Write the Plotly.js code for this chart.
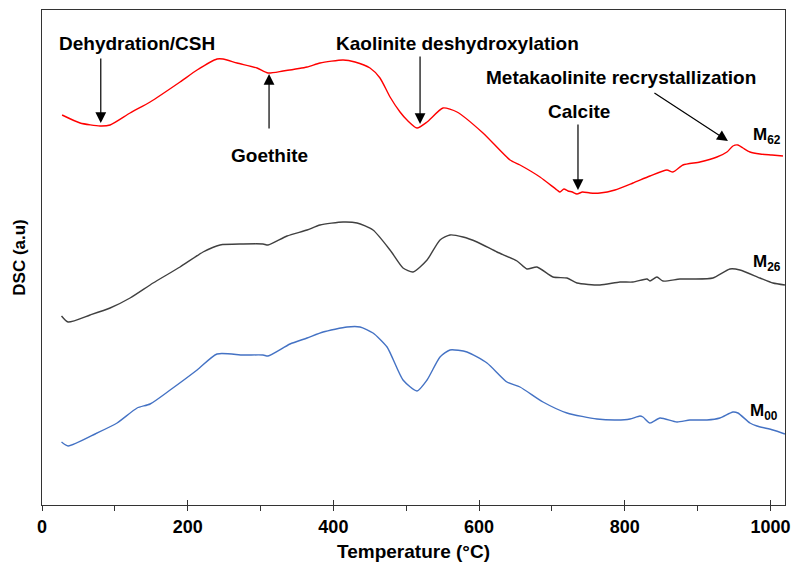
<!DOCTYPE html>
<html>
<head>
<meta charset="utf-8">
<script src="https://cdn.plot.ly/plotly-3.0.1.min.js"></script>
<style>
  html, body { margin: 0; padding: 0; background: #ffffff; }
  #chart { width: 800px; height: 566px; }
</style>
</head>
<body>
<div id="chart"></div>
<script>
// DSC thermograms (arbitrary units) of the three mixes versus temperature

// M62 (red)
const tempM62 = [27.6, 52.3, 79.7, 93.5, 120.9, 148.4, 189.5, 212.9, 240.3, 248.6, 267.8, 295.2, 310.3, 330.9,
  363.9, 381.7, 413.3, 429.7, 450.3, 464.0, 477.8, 491.5, 501.1, 514.8, 528.6, 550.5, 569.7, 605.4, 642.5,
  656.2, 683.6, 707.0, 711.1, 716.5, 722.1, 728.0, 734.4, 742.0, 752.3, 766.0, 786.6, 811.3, 834.6, 857.9,
  866.2, 879.9, 903.2, 926.6, 940.3, 948.5, 955.4, 962.3, 971.9, 985.6, 1002.1, 1017.2];
const dscM62 = [390, 382, 379, 380, 392, 403, 423, 435, 446, 446, 442, 437, 432, 434,
  438, 442, 445, 443, 437, 427, 408, 393, 385, 377, 383, 397, 393, 372, 345,
  340, 328, 315, 313, 316, 314, 313, 311, 313, 312, 312, 315, 322, 329, 335,
  333, 340, 343, 348, 353, 359, 360, 357, 353, 351, 350, 349];

// M26 (dark grey)
const tempM26 = [26.8, 35.8, 66.0, 93.5, 120.9, 152.5, 189.5, 221.1, 244.4, 276.0, 303.5, 310.3, 336.4, 363.9,
  381.7, 413.3, 432.5, 454.4, 477.8, 495.6, 509.3, 528.6, 546.4, 560.1, 578.0, 597.2, 624.6, 652.1, 665.8,
  679.5, 701.5, 720.7, 734.4, 766.0, 793.4, 811.3, 830.5, 834.6, 844.2, 852.5, 875.8, 893.6, 921.1, 944.4,
  958.1, 985.6, 1003.4, 1019.9];
const dscM26 = [189, 183, 190, 197, 207, 222, 238, 253, 260, 261, 261, 260, 269, 275,
  280, 283, 282, 275, 255, 237, 233, 245, 265, 270, 268, 263, 253, 244, 236,
  238, 228, 227, 222, 220, 223, 223, 226, 224, 228, 224, 226, 226, 227, 236,
  235, 227, 222, 220];

// M00 (blue)
const tempM00 = [26.8, 35.8, 75.6, 103.1, 130.6, 148.4, 175.9, 212.9, 240.3, 276.0, 303.5, 310.3, 340.5, 363.9,
  385.9, 418.8, 436.7, 454.4, 473.7, 495.6, 514.8, 528.6, 546.4, 560.1, 583.4, 610.9, 638.3, 656.2, 687.8,
  720.7, 761.9, 789.3, 807.2, 820.9, 825.0, 834.6, 848.4, 871.7, 889.5, 912.9, 930.7, 948.5, 955.4, 971.9,
  981.5, 1003.4, 1019.9];
const dscM00 = [63, 59, 72, 82, 97, 101, 115, 135, 151, 150, 150, 149, 161, 167,
  173, 178, 178, 172, 158, 125, 114, 125, 148, 155, 153, 142, 123, 118, 103,
  92, 86, 85, 86, 89, 88, 82, 87, 83, 85, 85, 87, 93, 92, 82,
  79, 75, 71];

const xTicks = [0, 200, 400, 600, 800, 1000];

const FONT = '"Liberation Sans", Arial, sans-serif';

function curve(x, y, color) {
  return {
    x: x, y: y, type: 'scatter', mode: 'lines',
    line: { color: color, width: 1.4, shape: 'spline', smoothing: 0.6 },
    hoverinfo: 'skip', showlegend: false
  };
}

const traces = [
  curve(tempM62, dscM62, '#ff0000'),
  curve(tempM26, dscM26, '#404040'),
  curve(tempM00, dscM00, '#4472c4')
];

// event labels with their arrows (arrow tail -> tip on the curve)
const events = [
  { text: 'Dehydration/CSH', tx: 130.7, ty: 462, from: [80.7, 448], to: [80.7, 382] },
  { text: 'Goethite', tx: 311.7, ty: 350, from: [311.7, 375], to: [311.7, 431] },
  { text: 'Kaolinite deshydroxylation', tx: 571, ty: 462, from: [519, 450], to: [519, 381] },
  { text: 'Metakaolinite recrystallization', tx: 794.8, ty: 428, from: [838.7, 413], to: [941.7, 364] },
  { text: 'Calcite', tx: 737, ty: 394, from: [735.8, 382], to: [735.8, 315] }
];

const annotations = [];
events.forEach(e => {
  annotations.push({
    x: e.tx, y: e.ty, xref: 'x', yref: 'y', text: e.text, showarrow: false,
    xanchor: 'center', yanchor: 'middle',
    font: { family: FONT, size: 19, color: '#000', weight: 'bold' }
  });
  annotations.push({
    x: e.to[0], y: e.to[1], ax: e.from[0], ay: e.from[1],
    xref: 'x', yref: 'y', axref: 'x', ayref: 'y', text: '',
    showarrow: true, arrowhead: 2, arrowsize: 1.8, arrowwidth: 1.2, arrowcolor: '#000', standoff: 0
  });
});

// sample names at the right end of each curve
[
  { text: 'M<sub>62</sub>', x: 995.5, y: 369 },
  { text: 'M<sub>26</sub>', x: 995.5, y: 242 },
  { text: 'M<sub>00</sub>', x: 991.4, y: 93 }
].forEach(s => annotations.push({
  x: s.x, y: s.y, xref: 'x', yref: 'y', text: s.text, showarrow: false,
  xanchor: 'center', yanchor: 'middle',
  font: { family: FONT, size: 17, color: '#000', weight: 'bold' }
}));

const layout = {
  width: 800, height: 566,
  margin: { l: 42, r: 15, t: 10, b: 61 },
  paper_bgcolor: '#ffffff', plot_bgcolor: '#ffffff',
  showlegend: false,
  font: { family: FONT, color: '#000' },
  xaxis: {
    range: [0, 1020], tickvals: xTicks, ticktext: xTicks.map(String),
    ticks: 'outside', ticklen: 5, tickwidth: 1, tickcolor: '#333',
    minor: { dtick: 100, tick0: 0, ticks: 'outside', ticklen: 5, tickwidth: 1, tickcolor: '#333' },
    showline: true, linecolor: '#333', linewidth: 1, mirror: true,
    showgrid: false, zeroline: false,
    tickfont: { family: FONT, size: 18, color: '#000', weight: 'bold' },
    title: { text: 'Temperature (°C)', standoff: 9, font: { family: FONT, size: 19, color: '#000', weight: 'bold' } }
  },
  // inner half of the crossing major ticks
  xaxis2: {
    overlaying: 'x', matches: 'x', anchor: 'y', side: 'bottom',
    range: [0, 1020], tickvals: xTicks, ticks: 'inside', ticklen: 5, tickwidth: 1, tickcolor: '#333',
    showticklabels: false, showgrid: false, zeroline: false, showline: false
  },
  yaxis: {
    range: [0, 495], showticklabels: false, ticks: '',
    showline: true, linecolor: '#333', linewidth: 1, mirror: true,
    showgrid: false, zeroline: false,
    title: { text: 'DSC (a.u)', standoff: 11, font: { family: FONT, size: 17, color: '#000', weight: 'bold' } }
  },
  annotations: annotations
};

// invisible trace to bring the overlaid tick axis into play
traces.push({ x: [0], y: [0], xaxis: 'x2', yaxis: 'y', type: 'scatter', mode: 'markers',
  marker: { opacity: 0 }, hoverinfo: 'skip', showlegend: false });

Plotly.newPlot('chart', traces, layout, { displayModeBar: false, staticPlot: true });
</script>
</body>
</html>
